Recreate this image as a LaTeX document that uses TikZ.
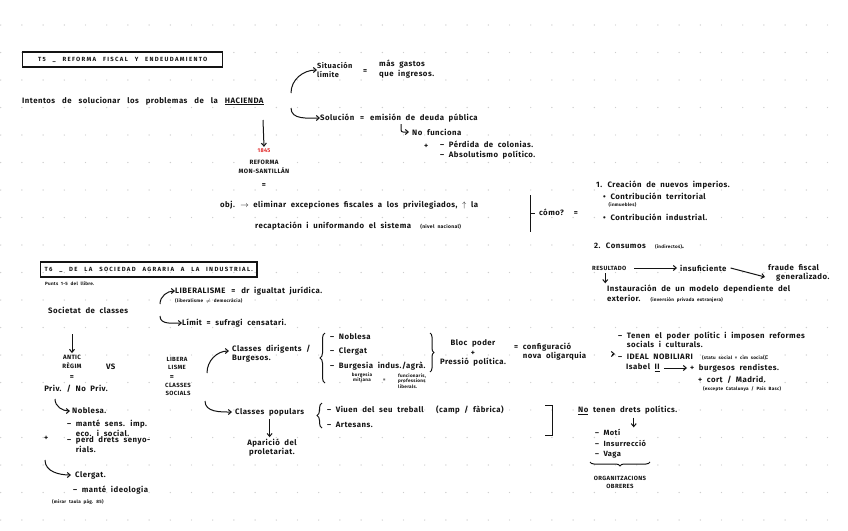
\documentclass[tikz,border=0pt]{standalone}
\usepackage{fontspec}
\setmainfont[WordSpace=2,LetterSpace=6]{Fira Sans}
\newfontfamily\capsfont[LetterSpace=22,WordSpace=2.5]{Fira Sans}
\usepackage{tikz}
\usetikzlibrary{arrows.meta,positioning,calc,decorations.pathreplacing}
\definecolor{ink}{RGB}{20,20,20}
\definecolor{dotgray}{RGB}{205,205,205}
\definecolor{inkred}{RGB}{225,35,35}

\begin{document}
\begin{tikzpicture}[x=1pt,y=-1pt,
  txt/.style={anchor=west,inner sep=0pt,text=ink,align=left,
              font=\fontsize{7.8}{10}\selectfont\bfseries},
  ctr/.style={txt,anchor=center,align=center},
  small/.style={txt,font=\fontsize{4.6}{5.2}\selectfont\bfseries},
  caps/.style={ctr,font=\fontsize{6.2}{9}\selectfont\bfseries},
  titlebox/.style={draw=ink,line width=1.4pt,anchor=west,inner xsep=4pt,
              minimum height=15pt,text=ink,
              font=\capsfont\fontsize{6}{6}\selectfont\bfseries},
  arr/.style={-{Straight Barb[length=3pt,width=5pt]},line width=1pt,ink},
  brace/.style={decorate,decoration={brace,amplitude=5pt},line width=1pt,ink}]
  \fill[white] (0,0) rectangle (848,530);
  \useasboundingbox (0,0) rectangle (848,530);
  \foreach \i in {0,...,40}
    \foreach \j in {0,...,19}
      \fill[dotgray] (0.7+21.2*\i,25+27.5*\j) circle (0.7pt);

  % T5
  \node[titlebox,minimum width=200pt] (t5) at (22,59.5) {T5 \_ REFORMA FISCAL Y ENDEUDAMIENTO};
  \node[txt] (intentos) at (22,101) {\spaceskip=7pt plus 1pt Intentos de solucionar los problemas de la \underline{HACIENDA}};
  \node[txt,font=\fontsize{7.4}{9.5}\selectfont\bfseries] (situacion) at (317,70) {Situación\\límite};
  \node[txt] (eqa) at (363,72) {=};
  \node[txt,font=\fontsize{7.8}{9.5}\selectfont\bfseries] (masgastos) at (379,69) {más gastos\\que ingresos.};
  \node[txt] (solucion) at (320,118) {Solución \,=\, emisión de deuda pública};
  \node[txt] (funciona) at (412,132) {No funciona};
  \node[txt] (plusa) at (424,146) {+};
  \node[txt] (perdida) at (440,150) {– Pérdida de colonias.\\– Absolutismo político.};
  \coordinate (ca) at (291,93);
  \coordinate (cb) at (291,108);
  \coordinate (cf) at (401,124);
  \draw[arr] (ca) to[out=90,in=180] (situacion.west);
  \draw[arr] (cb) to[out=-90,in=180] (solucion.west);
  \draw[arr,rounded corners=2pt] (cf) |- ([xshift=-3pt]funciona.west);

  \coordinate (hd) at (263,120);
  \node[ctr,text=inkred,font=\fontsize{5.5}{6}\selectfont\bfseries] (y1845) at (264,151) {1845};
  \node[caps] (reforma) at (264,167) {REFORMA\\MON-SANTILLÁN};
  \node[ctr] (eqb) at (264,186) {=};
  \draw[arr] (hd) -- ([yshift=2pt]y1845.north);
  \node[txt] (obj) at (220,205) {obj. $\rightarrow$ eliminar excepciones fiscales a los privilegiados, $\uparrow$ la};
  \node[txt] (recap) at (255,226) {recaptación i uniformando el sistema \ {\fontsize{5}{5}\selectfont(nivel nacional)}};
  \draw[line width=1pt,ink] (530,195) -- (530,232);
  \draw[line width=1pt,ink] (530,213) -- (535,213);
  \node[txt] (como) at (539,212) {cómo? \ =};
  \node[txt] (creacion) at (596,185) {1. Creación de nuevos imperios.};
  \node[txt] (contriba) at (603,200) {• Contribución territorial\\[-3pt]{\fontsize{4.6}{5}\selectfont\ \ (inmuebles)}};
  \node[txt] (contribb) at (603,217) {• Contribución industrial.};
  \node[txt] (consumos) at (594,246) {2. Consumos \ {\fontsize{4.6}{5}\selectfont(indirectos)}.};
  \node[txt,font=\fontsize{6}{6}\selectfont\bfseries] (resultado) at (592,268) {RESULTADO};
  \node[txt] (insuf) at (680,268) {insuficiente};
  \node[txt,font=\fontsize{7.8}{9.5}\selectfont\bfseries] (fraude) at (768,273) {fraude fiscal\\\hspace{8pt}generalizado.};
  \node[txt,font=\fontsize{7.8}{9.5}\selectfont\bfseries] (instaur) at (607,294) {Instauración de un modelo dependiente del\\exterior. \ {\fontsize{4.6}{5}\selectfont(inversión privada extranjera)}};
  \draw[arr] ([xshift=8pt]resultado.east) -- ([xshift=-3pt]insuf.west);
  \draw[arr] ([xshift=4pt]insuf.east) -- ([xshift=-3pt,yshift=-4pt]fraude.west);
  \draw[arr] ([xshift=-4pt,yshift=-3pt]resultado.south) -- ([xshift=-4pt,yshift=2pt]resultado.south |- instaur.north);

  % T6
  \node[titlebox] (t6) at (40,269.5) {T6 \_ DE LA SOCIEDAD AGRARIA A LA INDUSTRIAL.};
  \node[small] (punts) at (45,284) {Punts 1-5 del llibre.};
  \node[txt] (societat) at (48,310) {Societat de classes};
  \node[txt] (lib) at (175,291) {LIBERALISME \,=\, dr igualtat jurídica.};
  \node[small] (libnota) at (175,301) {(liberalisme $\neq$ democràcia)};
  \node[txt] (limit) at (182,323) {Límit = sufragi censatari.};
  \coordinate (cc) at (160,304);
  \coordinate (cd) at (160,316);
  \draw[arr] (cc) to[out=90,in=180] (lib.west);
  \draw[arr] (cd) to[out=-90,in=180] (limit.west);

  \coordinate (sd) at (72,334);
  \node[caps] (antic) at (72,362) {ANTIC\\RÈGIM};
  \node[txt] (vs) at (106,367) {VS};
  \node[caps,font=\fontsize{6}{8}\selectfont\bfseries] (libera) at (177,363) {LIBERA\\LISME};
  \draw[arr] (sd) -- ([yshift=2pt]antic.north);
  \node[ctr] (eqc) at (72,378) {=};
  \node[ctr] (priv) at (76,389) {Priv. / No Priv.};
  \node[ctr] (eqd) at (172,378) {=};
  \node[caps,font=\fontsize{6}{8}\selectfont\bfseries] (socials) at (178,389) {CLASSES\\SOCIALS};

  \node[txt] (noblesa) at (72,411) {Noblesa.};
  \node[txt] (mante) at (67,428) {– manté sens. imp.\\\phantom{– }eco. i social.};
  \node[txt] (plusb) at (44,438) {+};
  \node[txt] (perd) at (67,445) {– perd drets senyo-\\\phantom{– }rials.};
  \node[txt] (clergat) at (75,475) {Clergat.};
  \node[txt] (ideologia) at (73,490) {– manté ideologia};
  \node[small] (mirar) at (52,502) {(mirar taula pàg. 85)};
  \coordinate (ce) at (55,399);
  \coordinate (cf2) at (45,460);
  \draw[arr] (ce) to[out=-90,in=180] ([xshift=-2pt]noblesa.west);
  \draw[arr] (cf2) to[out=-90,in=180] ([xshift=-4pt]clergat.west);

  \node[txt,font=\fontsize{7.8}{9}\selectfont\bfseries] (dirigents) at (232,354) {Classes dirigents /\\Burgesos.};
  \node[txt] (populars) at (235,412) {Classes populars};
  \coordinate (cg) at (207,373);
  \coordinate (ch) at (205,401);
  \draw[arr] (cg) to[out=90,in=180] ([xshift=-3pt,yshift=3pt]dirigents.west);
  \draw[arr] (ch) to[out=-90,in=180] ([xshift=-3pt]populars.west);

  \draw[brace] (325,383) -- (325,333);
  \node[txt] (noblesab) at (330,337) {– Noblesa};
  \node[txt] (clergatb) at (330,351) {– Clergat};
  \node[txt] (burgesia) at (330,366) {– Burgesia indus./agrà.};
  \node[small,anchor=center,align=center] (mitjana) at (362,378) {burgesia\\mitjana};
  \node[small] (eqe) at (383,380) {=};
  \node[small] (funcion) at (398,381) {funcionaris,\\professions\\liberals.};
  \draw[brace,decoration={amplitude=4pt}] (430,333) -- (430,372);
  \node[ctr] (bloc) at (473,353) {Bloc poder\\+\\[-1pt]Pressió política.};
  \node[txt,font=\fontsize{7.8}{9}\selectfont\bfseries] (config) at (514,352) {= configuració\\\phantom{= }nova oligarquia};
  \node[txt,font=\fontsize{7.8}{9}\selectfont\bfseries] (tenen) at (618,340) {– Tenen el poder polític i imposen reformes\\\phantom{– }socials i culturals.};
  \node[txt] (ideal) at (618,357) {– IDEAL NOBILIARI \ {\fontsize{4.6}{5}\selectfont(statu social = cim social)}:};
  \node[txt] (isabel) at (626,368) {Isabel \underline{II}};
  \node[txt] (rend) at (690,368) {+ burgesos rendistes.};
  \node[txt] (cort) at (698,380) {+ cort / Madrid.};
  \node[small] (excepte) at (703,389) {(excepte Catalunya / País Basc)};
  \draw[arr] ([xshift=26pt,yshift=-2pt]config.east) -- ([xshift=-3pt,yshift=-2pt]config.east -| ideal.west);
  \draw[arr] ([xshift=4pt]isabel.east) -- ([xshift=-3pt]rend.west);

  \draw[brace] (322,428) -- (322,403);
  \node[txt] (viuen) at (327,410) {– Viuen del seu treball \quad (camp / fàbrica)};
  \node[txt] (artesans) at (327,425) {– Artesans.};
  \draw[line width=1pt,ink] (545,405) -- (552,405) -- (552,435) -- (545,435);
  \node[ctr,font=\fontsize{7.8}{9}\selectfont\bfseries] (aparicio) at (272,448) {Aparició del\\proletariat.};
  \draw[arr] ([yshift=-3pt]populars.south) -- ([yshift=2pt]populars.south |- aparicio.north);

  \node[txt] (notenen) at (578,410) {\underline{No} tenen drets polítics.};
  \node[txt,font=\fontsize{7.5}{10.5}\selectfont\bfseries] (revolta) at (595,444) {– Motí\\– Insurrecció\\– Vaga};
  \draw[arr] ([xshift=6pt,yshift=-3pt]notenen.south) -- ([xshift=6pt,yshift=2pt]notenen.south |- revolta.north);
  \draw[brace,decoration={amplitude=4pt}] (650,462) -- (590,462);
  \node[caps,font=\fontsize{6}{8}\selectfont\bfseries] (organitz) at (620,482) {ORGANITZACIONS\\OBRERES};
\end{tikzpicture}
\end{document}
